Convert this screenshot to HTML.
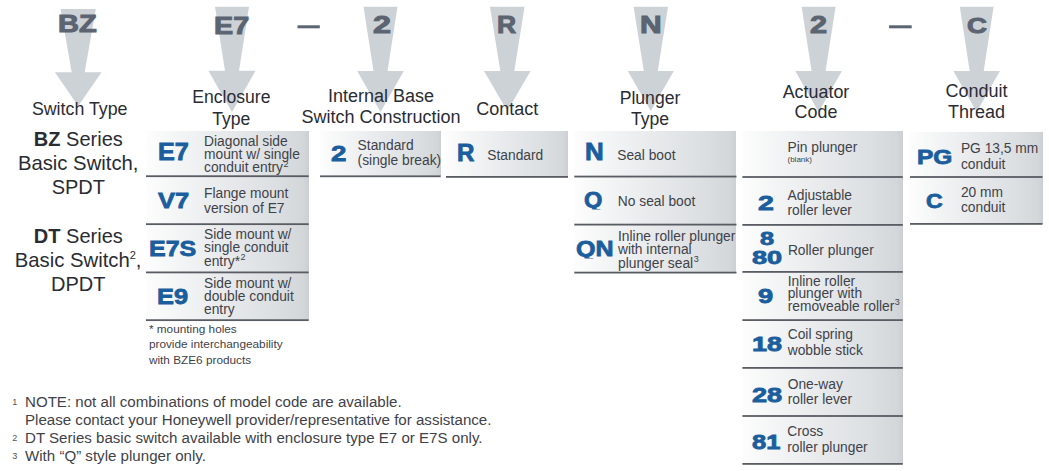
<!DOCTYPE html>
<html><head><meta charset="utf-8">
<style>
html,body{margin:0;padding:0;background:#fff;}
body{width:1049px;height:471px;position:relative;overflow:hidden;font-family:"Liberation Sans",sans-serif;}
.t{position:absolute;white-space:nowrap;}
.row{position:absolute;background:linear-gradient(to right,#fdfdfd 0%,#f7f8f8 12%,#e9ebed 45%,#dcdfe2 80%,#d4d7da 96%,#cbcfd3 100%);}
.ln{position:absolute;height:2px;background:#62666c;}
.d{position:absolute;white-space:nowrap;color:#373b42;font-size:13.6px;}
.d sup{font-size:8px;vertical-align:0;position:relative;top:-5px;}
</style></head><body>
<svg width="1049" height="471" style="position:absolute;left:0;top:0"><polygon fill="#cdd2d7" points="60.6,9.0 95.8,9.0 84.7,72.3 101.5,72.3 78.2,106.0 54.9,72.3 71.7,72.3"/><polygon fill="#cdd2d7" points="215.0,6.7 249.0,6.7 239.0,70.7 255.6,70.7 232.0,112.0 208.4,70.7 225.0,70.7"/><polygon fill="#cdd2d7" points="363.5,6.7 397.5,6.7 387.5,71.0 403.8,71.0 380.5,112.0 357.2,71.0 373.5,71.0"/><polygon fill="#cdd2d7" points="490.0,6.7 524.6,6.7 514.3,71.0 530.6,71.0 507.3,111.0 484.0,71.0 500.3,71.0"/><polygon fill="#cdd2d7" points="633.6,6.7 668.0,6.7 657.8,71.0 673.8,71.0 650.8,111.0 627.8,71.0 643.8,71.0"/><polygon fill="#cdd2d7" points="801.6,6.7 835.6,6.7 825.6,71.0 841.9,71.0 818.6,112.0 795.3,71.0 811.6,71.0"/><polygon fill="#cdd2d7" points="959.8,6.7 993.6,6.7 983.7,71.0 1000.0,71.0 976.7,112.0 953.4,71.0 969.7,71.0"/><rect x="297.5" y="25.3" width="22.3" height="3" fill="#5b6470"/><rect x="889.1" y="25.3" width="22.6" height="3" fill="#5b6470"/></svg>
<div class="t" style="left:58.12px;top:10.45px;font-size:23.77px;line-height:28.52px;font-weight:700;color:#5b6470;transform:scaleX(1.220);transform-origin:0 0;-webkit-text-stroke:1.0px #5b6470;">BZ</div>
<div class="t" style="left:213.63px;top:11.20px;font-size:24.35px;line-height:29.22px;font-weight:700;color:#5b6470;transform:scaleX(1.180);transform-origin:0 0;-webkit-text-stroke:1.0px #5b6470;">E7</div>
<div class="t" style="left:373.07px;top:11.81px;font-size:23.29px;line-height:27.94px;font-weight:700;color:#5b6470;transform:scaleX(1.387);transform-origin:0 0;-webkit-text-stroke:1.0px #5b6470;">2</div>
<div class="t" style="left:497.48px;top:11.49px;font-size:23.62px;line-height:28.35px;font-weight:700;color:#5b6470;transform:scaleX(1.120);transform-origin:0 0;-webkit-text-stroke:1.0px #5b6470;">R</div>
<div class="t" style="left:640.25px;top:11.49px;font-size:23.62px;line-height:28.35px;font-weight:700;color:#5b6470;transform:scaleX(1.270);transform-origin:0 0;-webkit-text-stroke:1.0px #5b6470;">N</div>
<div class="t" style="left:809.53px;top:11.81px;font-size:23.29px;line-height:27.94px;font-weight:700;color:#5b6470;transform:scaleX(1.315);transform-origin:0 0;-webkit-text-stroke:1.0px #5b6470;">2</div>
<div class="t" style="left:966.69px;top:11.89px;font-size:22.96px;line-height:27.55px;font-weight:700;color:#5b6470;transform:scaleX(1.204);transform-origin:0 0;-webkit-text-stroke:1.0px #5b6470;">C</div>
<div class="t" style="left:-220.30px;width:600px;text-align:center;top:98.51px;font-size:17.8px;line-height:21.36px;color:#2a2c33;font-weight:400;">Switch Type</div>
<div class="t" style="left:-68.70px;width:600px;text-align:center;top:86.60px;font-size:17.6px;line-height:21.12px;color:#2a2c33;font-weight:400;">Enclosure</div>
<div class="t" style="left:-68.70px;width:600px;text-align:center;top:108.60px;font-size:17.6px;line-height:21.12px;color:#2a2c33;font-weight:400;">Type</div>
<div class="t" style="left:81.00px;width:600px;text-align:center;top:86.01px;font-size:18px;line-height:21.6px;color:#2a2c33;font-weight:400;">Internal Base</div>
<div class="t" style="left:81.00px;width:600px;text-align:center;top:106.61px;font-size:18px;line-height:21.6px;color:#2a2c33;font-weight:400;">Switch Construction</div>
<div class="t" style="left:207.30px;width:600px;text-align:center;top:98.51px;font-size:18px;line-height:21.6px;color:#2a2c33;font-weight:400;">Contact</div>
<div class="t" style="left:350.00px;width:600px;text-align:center;top:87.60px;font-size:17.6px;line-height:21.12px;color:#2a2c33;font-weight:400;">Plunger</div>
<div class="t" style="left:350.00px;width:600px;text-align:center;top:108.60px;font-size:17.6px;line-height:21.12px;color:#2a2c33;font-weight:400;">Type</div>
<div class="t" style="left:516.00px;width:600px;text-align:center;top:81.71px;font-size:17.9px;line-height:21.48px;color:#2a2c33;font-weight:400;">Actuator</div>
<div class="t" style="left:516.00px;width:600px;text-align:center;top:102.21px;font-size:17.9px;line-height:21.48px;color:#2a2c33;font-weight:400;">Code</div>
<div class="t" style="left:676.60px;width:600px;text-align:center;top:81.01px;font-size:18px;line-height:21.6px;color:#2a2c33;font-weight:400;">Conduit</div>
<div class="t" style="left:676.60px;width:600px;text-align:center;top:102.21px;font-size:18px;line-height:21.6px;color:#2a2c33;font-weight:400;">Thread</div>
<div class="t" style="left:-221.70px;width:600px;text-align:center;top:126.81px;font-size:20px;line-height:24.0px;color:#2a2c33;font-weight:400;"><b>BZ</b> Series</div>
<div class="t" style="left:-221.80px;width:600px;text-align:center;top:150.51px;font-size:20.3px;line-height:24.36px;color:#2a2c33;font-weight:400;">Basic Switch,</div>
<div class="t" style="left:-221.70px;width:600px;text-align:center;top:175.01px;font-size:20px;line-height:24.0px;color:#2a2c33;font-weight:400;">SPDT</div>
<div class="t" style="left:-221.70px;width:600px;text-align:center;top:224.01px;font-size:20px;line-height:24.0px;color:#2a2c33;font-weight:400;"><b>DT</b> Series</div>
<div class="t" style="left:-221.90px;width:600px;text-align:center;top:248.31px;font-size:20.3px;line-height:24.36px;color:#2a2c33;font-weight:400;">Basic Switch<span style="font-size:11px;position:relative;top:-8px">2</span>,</div>
<div class="t" style="left:-221.70px;width:600px;text-align:center;top:271.81px;font-size:20px;line-height:24.0px;color:#2a2c33;font-weight:400;">DPDT</div>
<div class="row" style="left:146px;width:162.7px;top:131px;height:45.19999999999999px"></div>
<div class="row" style="left:146px;width:162.7px;top:176.2px;height:47.95000000000002px"></div>
<div class="row" style="left:146px;width:162.7px;top:224.15px;height:48.24999999999997px"></div>
<div class="row" style="left:146px;width:162.7px;top:272.4px;height:47.75px"></div>
<div class="row" style="left:320px;width:120.69999999999999px;top:131px;height:45.30000000000001px"></div>
<div class="row" style="left:446px;width:122px;top:131px;height:45.900000000000006px"></div>
<div class="row" style="left:574.3px;width:162.20000000000005px;top:131px;height:45.56px"></div>
<div class="row" style="left:574.3px;width:162.20000000000005px;top:176.56px;height:48.03999999999999px"></div>
<div class="row" style="left:574.3px;width:162.20000000000005px;top:224.6px;height:48.00000000000003px"></div>
<div class="row" style="left:742.4px;width:160.39999999999998px;top:131px;height:46px"></div>
<div class="row" style="left:742.4px;width:160.39999999999998px;top:177px;height:47.900000000000006px"></div>
<div class="row" style="left:742.4px;width:160.39999999999998px;top:224.9px;height:46.99999999999997px"></div>
<div class="row" style="left:742.4px;width:160.39999999999998px;top:271.9px;height:48.200000000000045px"></div>
<div class="row" style="left:742.4px;width:160.39999999999998px;top:320.1px;height:47.799999999999955px"></div>
<div class="row" style="left:742.4px;width:160.39999999999998px;top:367.9px;height:48.10000000000002px"></div>
<div class="row" style="left:742.4px;width:160.39999999999998px;top:416px;height:47.89999999999998px"></div>
<div class="row" style="left:910px;width:132.5px;top:131.5px;height:45.5px"></div>
<div class="row" style="left:910px;width:132.5px;top:177px;height:46.900000000000006px"></div>
<svg width="1049" height="471" style="position:absolute;left:0;top:0"><rect x="146" y="175.30" width="162.70" height="1.8" fill="#595d63"/><rect x="146" y="223.25" width="162.70" height="1.8" fill="#595d63"/><rect x="146" y="271.50" width="162.70" height="1.8" fill="#595d63"/><rect x="146" y="319.25" width="162.70" height="1.8" fill="#595d63"/><rect x="320" y="175.40" width="120.70" height="1.8" fill="#595d63"/><rect x="446" y="176.00" width="122.00" height="1.8" fill="#595d63"/><rect x="574.3" y="175.66" width="162.20" height="1.8" fill="#595d63"/><rect x="574.3" y="223.70" width="162.20" height="1.8" fill="#595d63"/><rect x="574.3" y="271.70" width="162.20" height="1.8" fill="#595d63"/><rect x="742.4" y="176.10" width="160.40" height="1.8" fill="#595d63"/><rect x="742.4" y="224.00" width="160.40" height="1.8" fill="#595d63"/><rect x="742.4" y="271.00" width="160.40" height="1.8" fill="#595d63"/><rect x="742.4" y="319.20" width="160.40" height="1.8" fill="#595d63"/><rect x="742.4" y="367.00" width="160.40" height="1.8" fill="#595d63"/><rect x="742.4" y="415.10" width="160.40" height="1.8" fill="#595d63"/><rect x="742.4" y="463.00" width="160.40" height="1.8" fill="#595d63"/><rect x="910" y="176.10" width="132.50" height="1.8" fill="#595d63"/><rect x="910" y="223.00" width="132.50" height="1.8" fill="#595d63"/></svg>
<div class="t" style="left:158.16px;top:138.86px;font-size:23.01px;line-height:27.62px;font-weight:700;color:#1a5e9e;transform:scaleX(1.096);transform-origin:0 0;-webkit-text-stroke:0.8px #1a5e9e;">E7</div>
<div class="t" style="left:158.05px;top:186.89px;font-size:22.87px;line-height:27.44px;font-weight:700;color:#1a5e9e;transform:scaleX(1.115);transform-origin:0 0;-webkit-text-stroke:0.8px #1a5e9e;">V7</div>
<div class="t" style="left:149.27px;top:235.24px;font-size:22.79px;line-height:27.35px;font-weight:700;color:#1a5e9e;transform:scaleX(1.098);transform-origin:0 0;-webkit-text-stroke:0.8px #1a5e9e;">E7S</div>
<div class="t" style="left:157.45px;top:283.82px;font-size:22.08px;line-height:26.50px;font-weight:700;color:#1a5e9e;transform:scaleX(1.148);transform-origin:0 0;-webkit-text-stroke:0.8px #1a5e9e;">E9</div>
<div class="t" style="left:330.73px;top:141.28px;font-size:21.83px;line-height:26.19px;font-weight:700;color:#1a5e9e;transform:scaleX(1.269);transform-origin:0 0;-webkit-text-stroke:0.8px #1a5e9e;">2</div>
<div class="t" style="left:456.63px;top:139.76px;font-size:23.01px;line-height:27.62px;font-weight:700;color:#1a5e9e;transform:scaleX(1.047);transform-origin:0 0;-webkit-text-stroke:0.8px #1a5e9e;">R</div>
<div class="t" style="left:584.81px;top:138.86px;font-size:23.01px;line-height:27.62px;font-weight:700;color:#1a5e9e;transform:scaleX(1.127);transform-origin:0 0;-webkit-text-stroke:0.8px #1a5e9e;">N</div>
<div class="t" style="left:584.46px;top:186.79px;font-size:21.80px;line-height:26.16px;font-weight:700;color:#1a5e9e;transform:scaleX(1.082);transform-origin:0 0;-webkit-text-stroke:0.8px #1a5e9e;clip-path:inset(0 -10px 3.56px -10px);">Q</div>
<div class="t" style="left:576.30px;top:235.11px;font-size:22.51px;line-height:27.01px;font-weight:700;color:#1a5e9e;transform:scaleX(1.112);transform-origin:0 0;-webkit-text-stroke:0.8px #1a5e9e;clip-path:inset(0 -10px 3.68px -10px);">QN</div>
<div class="t" style="left:758.10px;top:191.13px;font-size:20.83px;line-height:24.99px;font-weight:700;color:#1a5e9e;transform:scaleX(1.370);transform-origin:0 0;-webkit-text-stroke:0.8px #1a5e9e;">2</div>
<div class="t" style="left:759.94px;top:227.98px;font-size:18.56px;line-height:22.28px;font-weight:700;color:#1a5e9e;transform:scaleX(1.360);transform-origin:0 0;-webkit-text-stroke:0.8px #1a5e9e;">8</div>
<div class="t" style="left:751.79px;top:246.55px;font-size:19.13px;line-height:22.95px;font-weight:700;color:#1a5e9e;transform:scaleX(1.418);transform-origin:0 0;-webkit-text-stroke:0.8px #1a5e9e;">80</div>
<div class="t" style="left:757.85px;top:284.23px;font-size:20.39px;line-height:24.47px;font-weight:700;color:#1a5e9e;transform:scaleX(1.335);transform-origin:0 0;-webkit-text-stroke:0.8px #1a5e9e;">9</div>
<div class="t" style="left:751.85px;top:332.03px;font-size:20.82px;line-height:24.98px;font-weight:700;color:#1a5e9e;transform:scaleX(1.297);transform-origin:0 0;-webkit-text-stroke:0.8px #1a5e9e;">18</div>
<div class="t" style="left:751.65px;top:381.69px;font-size:20.96px;line-height:25.15px;font-weight:700;color:#1a5e9e;transform:scaleX(1.297);transform-origin:0 0;-webkit-text-stroke:0.8px #1a5e9e;">28</div>
<div class="t" style="left:751.64px;top:428.99px;font-size:20.96px;line-height:25.15px;font-weight:700;color:#1a5e9e;transform:scaleX(1.217);transform-origin:0 0;-webkit-text-stroke:0.8px #1a5e9e;">81</div>
<div class="t" style="left:917.41px;top:144.16px;font-size:21.10px;line-height:25.32px;font-weight:700;color:#1a5e9e;transform:scaleX(1.161);transform-origin:0 0;-webkit-text-stroke:0.8px #1a5e9e;">PG</div>
<div class="t" style="left:925.58px;top:189.58px;font-size:19.41px;line-height:23.29px;font-weight:700;color:#1a5e9e;transform:scaleX(1.188);transform-origin:0 0;-webkit-text-stroke:0.8px #1a5e9e;">C</div>
<div class="t" style="left:204.00px;top:133.61px;font-size:13.8px;line-height:16.56px;color:#3f4248;font-weight:400;">Diagonal side</div>
<div class="t" style="left:204.00px;top:146.96px;font-size:13.8px;line-height:16.56px;color:#3f4248;font-weight:400;">mount w/ single</div>
<div class="t" style="left:204.00px;top:160.31px;font-size:13.8px;line-height:16.56px;color:#3f4248;font-weight:400;">conduit entry<span style="font-size:9px;position:relative;top:-5.5px;margin-left:0.5px">2</span></div>
<div class="t" style="left:204.00px;top:185.51px;font-size:13.8px;line-height:16.56px;color:#3f4248;font-weight:400;">Flange mount</div>
<div class="t" style="left:204.00px;top:200.51px;font-size:13.8px;line-height:16.56px;color:#3f4248;font-weight:400;">version of E7</div>
<div class="t" style="left:204.00px;top:227.01px;font-size:13.8px;line-height:16.56px;color:#3f4248;font-weight:400;">Side mount w/</div>
<div class="t" style="left:204.00px;top:240.26px;font-size:13.8px;line-height:16.56px;color:#3f4248;font-weight:400;">single conduit</div>
<div class="t" style="left:204.00px;top:253.51px;font-size:13.8px;line-height:16.56px;color:#3f4248;font-weight:400;">entry*<span style="font-size:9px;position:relative;top:-5.5px;margin-left:0.5px">2</span></div>
<div class="t" style="left:204.00px;top:275.81px;font-size:13.8px;line-height:16.56px;color:#3f4248;font-weight:400;">Side mount w/</div>
<div class="t" style="left:204.00px;top:288.81px;font-size:13.8px;line-height:16.56px;color:#3f4248;font-weight:400;">double conduit</div>
<div class="t" style="left:204.00px;top:301.81px;font-size:13.8px;line-height:16.56px;color:#3f4248;font-weight:400;">entry</div>
<div class="t" style="left:148.90px;top:322.31px;font-size:11.8px;line-height:14.16px;color:#3f4248;font-weight:400;">* mounting holes</div>
<div class="t" style="left:148.90px;top:337.41px;font-size:11.8px;line-height:14.16px;color:#3f4248;font-weight:400;">provide interchangeability</div>
<div class="t" style="left:148.90px;top:352.51px;font-size:11.8px;line-height:14.16px;color:#3f4248;font-weight:400;">with BZE6 products</div>
<div class="t" style="left:357.60px;top:137.51px;font-size:13.8px;line-height:16.56px;color:#3f4248;font-weight:400;">Standard</div>
<div class="t" style="left:357.60px;top:152.81px;font-size:13.8px;line-height:16.56px;color:#3f4248;font-weight:400;">(single break)</div>
<div class="t" style="left:487.30px;top:147.81px;font-size:13.8px;line-height:16.56px;color:#3f4248;font-weight:400;">Standard</div>
<div class="t" style="left:617.20px;top:147.91px;font-size:13.8px;line-height:16.56px;color:#3f4248;font-weight:400;">Seal boot</div>
<div class="t" style="left:617.80px;top:193.61px;font-size:13.8px;line-height:16.56px;color:#3f4248;font-weight:400;">No seal boot</div>
<div class="t" style="left:618.00px;top:228.91px;font-size:13.8px;line-height:16.56px;color:#3f4248;font-weight:400;">Inline roller plunger</div>
<div class="t" style="left:618.00px;top:242.21px;font-size:13.8px;line-height:16.56px;color:#3f4248;font-weight:400;">with internal</div>
<div class="t" style="left:618.00px;top:255.51px;font-size:13.8px;line-height:16.56px;color:#3f4248;font-weight:400;">plunger seal<span style="font-size:9px;position:relative;top:-5.5px;margin-left:0.5px">3</span></div>
<div class="t" style="left:787.50px;top:139.81px;font-size:13.8px;line-height:16.56px;color:#3f4248;font-weight:400;">Pin plunger</div>
<div class="t" style="left:787.50px;top:155.31px;font-size:8px;line-height:9.6px;color:#3f4248;font-weight:400;">(blank)</div>
<div class="t" style="left:787.50px;top:188.41px;font-size:13.8px;line-height:16.56px;color:#3f4248;font-weight:400;">Adjustable</div>
<div class="t" style="left:787.50px;top:203.41px;font-size:13.8px;line-height:16.56px;color:#3f4248;font-weight:400;">roller lever</div>
<div class="t" style="left:787.90px;top:242.91px;font-size:13.8px;line-height:16.56px;color:#3f4248;font-weight:400;">Roller plunger</div>
<div class="t" style="left:787.70px;top:273.61px;font-size:13.8px;line-height:16.56px;color:#3f4248;font-weight:400;">Inline roller</div>
<div class="t" style="left:787.70px;top:286.21px;font-size:13.8px;line-height:16.56px;color:#3f4248;font-weight:400;">plunger with</div>
<div class="t" style="left:787.70px;top:298.81px;font-size:13.8px;line-height:16.56px;color:#3f4248;font-weight:400;">removeable roller<span style="font-size:9px;position:relative;top:-5.5px;margin-left:0.5px">3</span></div>
<div class="t" style="left:787.70px;top:327.21px;font-size:13.8px;line-height:16.56px;color:#3f4248;font-weight:400;">Coil spring</div>
<div class="t" style="left:787.70px;top:342.51px;font-size:13.8px;line-height:16.56px;color:#3f4248;font-weight:400;">wobble stick</div>
<div class="t" style="left:787.70px;top:377.11px;font-size:13.8px;line-height:16.56px;color:#3f4248;font-weight:400;">One-way</div>
<div class="t" style="left:787.70px;top:392.11px;font-size:13.8px;line-height:16.56px;color:#3f4248;font-weight:400;">roller lever</div>
<div class="t" style="left:787.20px;top:423.71px;font-size:13.8px;line-height:16.56px;color:#3f4248;font-weight:400;">Cross</div>
<div class="t" style="left:787.20px;top:439.51px;font-size:13.8px;line-height:16.56px;color:#3f4248;font-weight:400;">roller plunger</div>
<div class="t" style="left:960.90px;top:141.41px;font-size:13.8px;line-height:16.56px;color:#3f4248;font-weight:400;">PG 13,5 mm</div>
<div class="t" style="left:960.90px;top:156.71px;font-size:13.8px;line-height:16.56px;color:#3f4248;font-weight:400;">conduit</div>
<div class="t" style="left:960.90px;top:184.91px;font-size:13.8px;line-height:16.56px;color:#3f4248;font-weight:400;">20 mm</div>
<div class="t" style="left:960.90px;top:199.91px;font-size:13.8px;line-height:16.56px;color:#3f4248;font-weight:400;">conduit</div>
<div class="t" style="left:25.00px;top:392.61px;font-size:15.1px;line-height:18.12px;color:#3f4248;font-weight:400;">NOTE: not all combinations of model code are available.</div>
<div class="t" style="left:25.00px;top:410.61px;font-size:15.1px;line-height:18.12px;color:#3f4248;font-weight:400;">Please contact your Honeywell provider/representative for assistance.</div>
<div class="t" style="left:25.00px;top:428.61px;font-size:15.1px;line-height:18.12px;color:#3f4248;font-weight:400;">DT Series basic switch available with enclosure type E7 or E7S only.</div>
<div class="t" style="left:25.00px;top:446.61px;font-size:15.1px;line-height:18.12px;color:#3f4248;font-weight:400;">With “Q” style plunger only.</div>
<div class="t" style="left:12.20px;top:396.60px;font-size:9px;line-height:10.8px;color:#50535a;font-weight:400;">1</div>
<div class="t" style="left:12.20px;top:432.60px;font-size:9px;line-height:10.8px;color:#50535a;font-weight:400;">2</div>
<div class="t" style="left:12.20px;top:450.60px;font-size:9px;line-height:10.8px;color:#50535a;font-weight:400;">3</div>
</body></html>
